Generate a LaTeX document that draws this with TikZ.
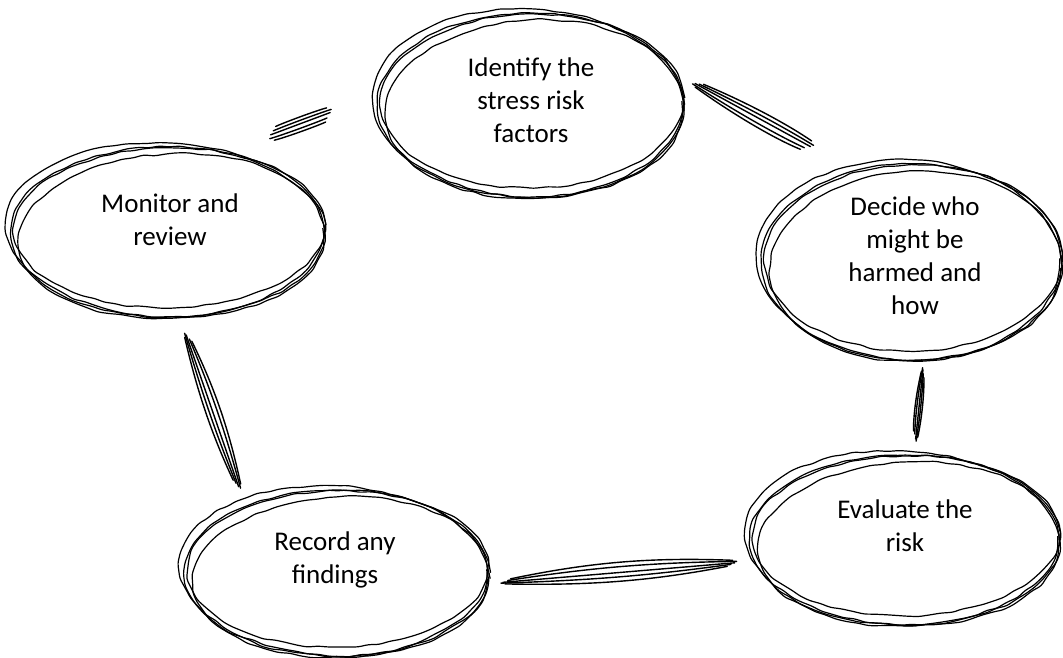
\documentclass[tikz,border=0pt]{standalone}
\usepackage{fontspec}
\setmainfont{Carlito}
\usetikzlibrary{shapes.geometric,decorations.pathmorphing}

\begin{document}
\begin{tikzpicture}[x=1pt, y=-1pt,
    stage/.style={ellipse, inner sep=0pt},
    stagetext/.style={align=center, inner sep=0pt, font=\fontsize{27}{33}\selectfont},
    sketch/.style={draw, line width=1.2pt, rounded corners=3pt,
        decorate, decoration={random steps, segment length=11pt, amplitude=1.1pt}},
    scrawl/.style={line width=1.4pt, line cap=round},
    ]
  \pgfmathsetseed{11}
  \useasboundingbox (0,0) rectangle (1063,658);

  \node[stage, minimum width=306pt, minimum height=184pt,
      label={[stagetext, yshift=5pt]center:{Identify the\\stress risk\\factors}}] (identify) at (531,105) {};
  \node[stage, minimum width=300pt, minimum height=196pt,
      label={[stagetext, xshift=3pt, yshift=6pt]center:{Decide who\\might be\\harmed and\\how}}] (decide) at (912,262) {};
  \node[stage, minimum width=310pt, minimum height=170pt,
      label={[stagetext, yshift=14pt]center:{Evaluate the\\risk}}] (evaluate) at (905,540) {};
  \node[stage, minimum width=304pt, minimum height=166pt,
      label={[stagetext, xshift=-2pt, yshift=13pt]center:{Record any\\findings}}] (record) at (337,573) {};
  \node[stage, minimum width=314pt, minimum height=170pt,
      label={[stagetext, xshift=2pt, yshift=12pt]center:{Monitor and\\review}}] (monitor) at (168,232) {};

  % hand drawn rings
  \foreach \nd/\rx/\ry in {identify/153/92, decide/150/98, evaluate/155/85, record/152/83, monitor/157/85}{
    \draw[sketch] (\nd.center) ellipse [x radius=\rx, y radius=\ry];
    \draw[sketch] ([shift={(3,4)}]\nd.center) ellipse [x radius=\rx-5, y radius=\ry-3, rotate=3];
    \draw[sketch] ([shift={(-3,-2)}]\nd.center) ellipse [x radius=\rx+2, y radius=\ry+2, rotate=-3];
    \draw[sketch] ([shift={(1,-4)}]\nd.center) ellipse [x radius=\rx-2, y radius=\ry-5, rotate=1];
  }

  % scribbled links
  \foreach \from/\to/\s/\e in {monitor.55/identify.176/50/52, identify.13/decide.122/24/51,
      decide.277/evaluate.84/10/16, evaluate.188/record.356/20/15, record.144/monitor.278/21/19}{
    \draw[scrawl, shorten <=\s pt, shorten >=\e pt] (\from) -- (\to);
    \draw[scrawl, shorten <=\s pt+4pt, shorten >=\e pt-2pt] (\from) to[bend left=3] (\to);
    \draw[scrawl, shorten <=\s pt-2pt, shorten >=\e pt+5pt] (\from) to[bend right=4] (\to);
    \draw[scrawl, shorten <=\s pt+8pt, shorten >=\e pt+2pt] (\from) to[bend left=6] (\to);
    \draw[scrawl, shorten <=\s pt+2pt, shorten >=\e pt+8pt] (\from) to[bend right=7] (\to);
  }
\end{tikzpicture}
\end{document}
